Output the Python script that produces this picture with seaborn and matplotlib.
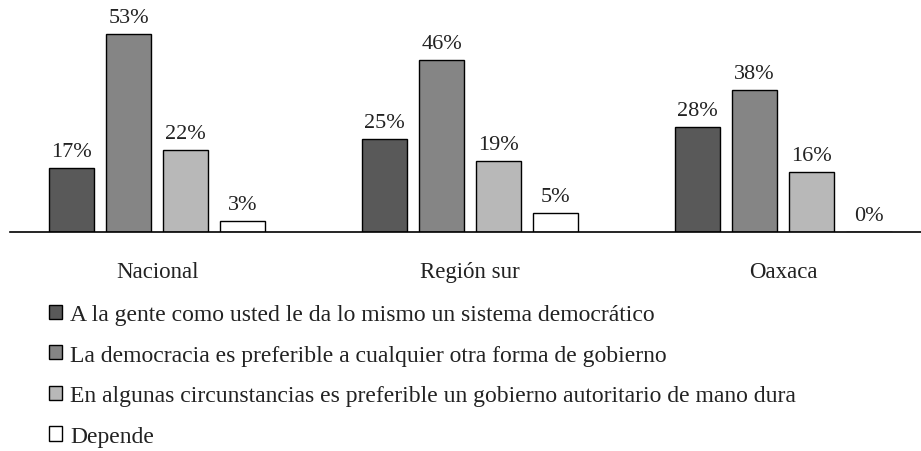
import matplotlib
matplotlib.use("Agg")
import matplotlib.pyplot as plt
import seaborn as sns
import pandas as pd

groups = ["Nacional", "Región sur", "Oaxaca"]
series = [
    "A la gente como usted le da lo mismo un sistema democrático",
    "La democracia es preferible a cualquier otra forma de gobierno",
    "En algunas circunstancias es preferible un gobierno autoritario de mano dura",
    "Depende",
]
values = {
    series[0]: [17, 25, 28],
    series[1]: [53, 46, 38],
    series[2]: [22, 19, 16],
    series[3]: [3, 5, 0],
}
colors = ["#595959", "#858585", "#b8b8b8", "#ffffff"]

rows = []
for s in series:
    for g, v in zip(groups, values[s]):
        rows.append({"grupo": g, "serie": s, "valor": v})
df = pd.DataFrame(rows)

sns.set_style("white")
plt.rcParams["font.family"] = ["Liberation Serif", "DejaVu Serif"]

fig = plt.figure(figsize=(9.21, 4.52), dpi=100)
ax = fig.add_axes([10 / 921, (452 - 233) / 452, 911 / 921, 233 / 452])

sns.barplot(data=df, x="grupo", y="valor", hue="serie", hue_order=series,
            order=groups, palette=colors, width=0.73, gap=0.21,
            edgecolor="black", linewidth=1, ax=ax, legend=True)

for cont in ax.containers:
    ax.bar_label(cont, labels=[f"{int(v)}%" for v in cont.datavalues],
                 padding=5, fontsize=16, color="#222222")

ax.set_ylim(0, 62.3)
ax.set_xlim(-0.47, 2.44)
ax.set_xlabel("")
ax.set_ylabel("")
ax.set_yticks([])
for side in ["top", "right", "left"]:
    ax.spines[side].set_visible(False)
ax.spines["bottom"].set_color("black")
ax.spines["bottom"].set_linewidth(1.2)
ax.tick_params(axis="x", length=0, pad=21, labelsize=16.5, labelcolor="#222222")

handles, labels = ax.get_legend_handles_labels()
ax.get_legend().remove()
fig.legend(handles, labels, loc="upper left", bbox_to_anchor=(49 / 921, 1 - 305 / 452),
           frameon=False, ncol=1, fontsize=17, handlelength=0.55, handleheight=0.55,
           handletextpad=0.35, labelspacing=0.83, borderpad=0, borderaxespad=0,
           labelcolor="#222222")

fig.savefig("out.png", dpi=100)
